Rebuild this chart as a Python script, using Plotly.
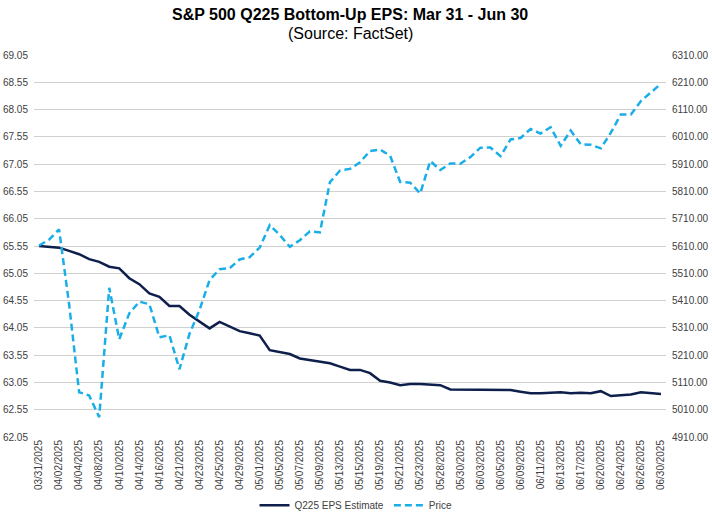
import plotly.graph_objects as go

dates = [
    "03/31/2025", "04/01/2025", "04/02/2025", "04/03/2025", "04/04/2025", "04/07/2025",
    "04/08/2025", "04/09/2025", "04/10/2025", "04/11/2025", "04/14/2025", "04/15/2025",
    "04/16/2025", "04/17/2025", "04/21/2025", "04/22/2025", "04/23/2025", "04/24/2025",
    "04/25/2025", "04/28/2025", "04/29/2025", "04/30/2025", "05/01/2025", "05/02/2025",
    "05/05/2025", "05/06/2025", "05/07/2025", "05/08/2025", "05/09/2025", "05/12/2025",
    "05/13/2025", "05/14/2025", "05/15/2025", "05/16/2025", "05/19/2025", "05/20/2025",
    "05/21/2025", "05/22/2025", "05/23/2025", "05/27/2025", "05/28/2025", "05/29/2025",
    "05/30/2025", "06/02/2025", "06/03/2025", "06/04/2025", "06/05/2025", "06/06/2025",
    "06/09/2025", "06/10/2025", "06/11/2025", "06/12/2025", "06/13/2025", "06/16/2025",
    "06/17/2025", "06/18/2025", "06/20/2025", "06/23/2025", "06/24/2025", "06/25/2025",
    "06/26/2025", "06/27/2025", "06/30/2025",
]

eps = [
    65.55, 65.54, 65.52, 65.46, 65.40, 65.31, 65.26, 65.17, 65.14, 64.96,
    64.85, 64.68, 64.62, 64.45, 64.45, 64.29, 64.16, 64.04, 64.16, 64.08,
    63.99, 63.95, 63.91, 63.64, 63.61, 63.57, 63.49, 63.46, 63.44, 63.40,
    63.34, 63.28, 63.28, 63.22, 63.08, 63.05, 63.00, 63.02, 63.02, 63.01,
    63.00, 62.92, 62.92, 62.91, 62.91, 62.92, 62.92, 62.91, 62.88, 62.85,
    62.85, 62.86, 62.87, 62.85, 62.86, 62.85, 62.89, 62.80, 62.82, 62.83,
    62.87, 62.86, 62.84,
]

price = [
    5611.85, 5633.07, 5670.97, 5396.52, 5074.08, 5062.25, 4982.77, 5456.90, 5268.05, 5363.36,
    5405.97, 5396.63, 5275.70, 5282.70, 5158.20, 5287.76, 5375.86, 5484.77, 5525.21, 5528.75,
    5560.83, 5569.06, 5604.14, 5686.67, 5650.38, 5606.91, 5631.28, 5663.94, 5659.91, 5844.19,
    5886.55, 5892.58, 5916.93, 5958.38, 5963.60, 5940.46, 5844.61, 5842.01, 5802.82, 5921.54,
    5888.55, 5912.17, 5911.69, 5935.94, 5970.37, 5970.81, 5939.30, 6000.36, 6005.88, 6038.81,
    6022.24, 6045.26, 5976.97, 6033.11, 5982.72, 5980.87, 5967.84, 6025.17, 6092.18, 6092.16,
    6141.02, 6173.07, 6204.95,
]

tick_dates = dates[::2]

title_main = "S&P 500 Q225 Bottom-Up EPS: Mar 31 - Jun 30"
title_sub = "(Source: FactSet)"

FONT = "Liberation Sans, Arial, sans-serif"
TICK_COLOR = "#404040"

fig = go.Figure()
fig.add_trace(go.Scatter(
    x=dates, y=eps, name="Q225 EPS Estimate", mode="lines",
    line=dict(color="#0d1f4a", width=2.5), yaxis="y",
))
fig.add_trace(go.Scatter(
    x=dates, y=price, name="Price", mode="lines",
    line=dict(color="#1aaee8", width=2.5, dash="7px,4px"), yaxis="y2",
))

fig.update_layout(
    width=712, height=516,
    margin=dict(l=34, r=46, t=55, b=79),
    paper_bgcolor="white", plot_bgcolor="white",
    font=dict(family=FONT, size=10, color=TICK_COLOR),
    showlegend=True,
    legend=dict(orientation="h", xref="container", yref="container",
                x=0.5, xanchor="center", y=0.021, yanchor="middle",
                font=dict(size=10, color=TICK_COLOR), bgcolor="rgba(0,0,0,0)"),
    xaxis=dict(
        type="category", categoryorder="array", categoryarray=dates,
        tickmode="array", tickvals=tick_dates, ticktext=tick_dates,
        tickangle=-90, range=[-0.5, len(dates) - 0.5], automargin=False,
        showgrid=False, showline=False, zeroline=False, ticks="",
        tickfont=dict(size=10, color=TICK_COLOR),
    ),
    yaxis=dict(
        range=[62.05, 69.05], tick0=62.05, dtick=0.5, tickformat=".2f",
        showgrid=True, gridcolor="#d0d0d0", gridwidth=1, zeroline=False,
        showline=False, ticks="", automargin=False, ticklabelstandoff=5,
        tickfont=dict(size=10, color=TICK_COLOR),
    ),
    yaxis2=dict(
        range=[4910, 6310], tick0=4910, dtick=100, tickformat=".2f",
        overlaying="y", side="right", showgrid=False, zeroline=False,
        showline=False, ticks="", automargin=False, ticklabelstandoff=5,
        tickfont=dict(size=10, color=TICK_COLOR),
    ),
    annotations=[
        dict(text="<b>" + title_main + "</b>", xref="paper", yref="paper",
             x=0.5, y=1.107, xanchor="center", yanchor="middle", showarrow=False,
             font=dict(family=FONT, size=16, color="#000000")),
        dict(text=title_sub, xref="paper", yref="paper",
             x=0.5, y=1.055, xanchor="center", yanchor="middle", showarrow=False,
             font=dict(family=FONT, size=16, color="#000000")),
    ],
)

fig.write_html(
    "out.html",
    config={"displayModeBar": False},
    post_script="document.body.style.margin='0';document.documentElement.style.overflow='hidden';document.body.style.overflow='hidden';",
)
